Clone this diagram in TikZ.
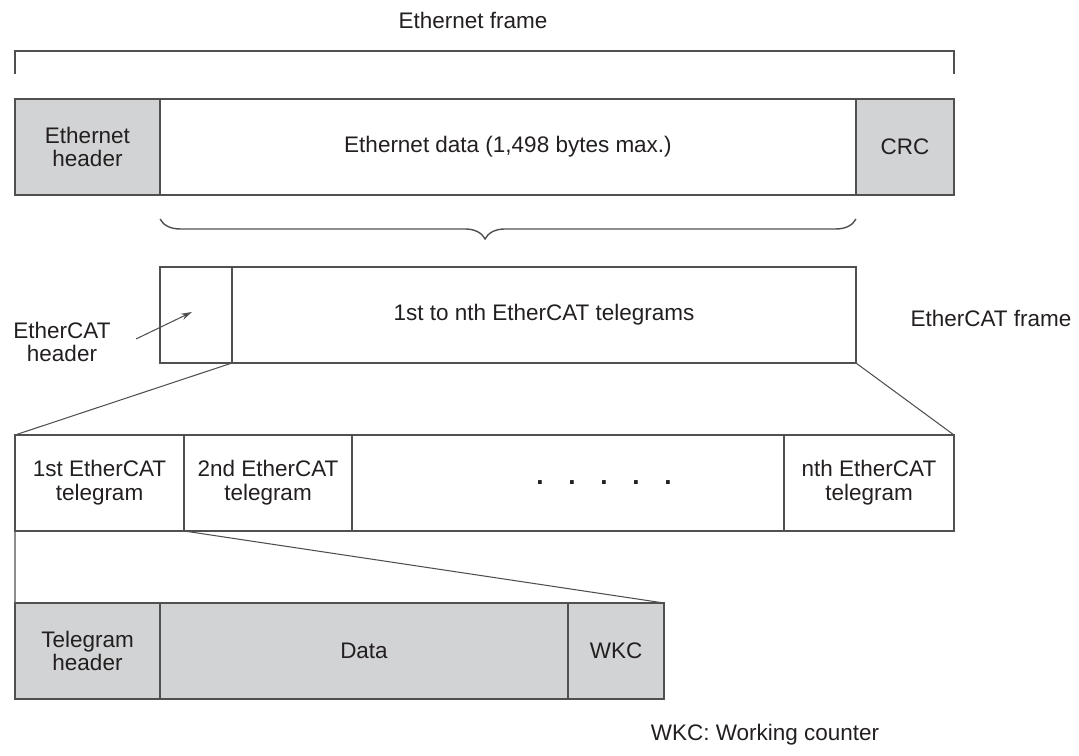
\documentclass[tikz,border=0pt]{standalone}
\usepackage{fontspec}
\setmainfont{Liberation Sans}
\usetikzlibrary{decorations.pathreplacing,arrows.meta}
\definecolor{boxgray}{HTML}{D1D3D4}
\definecolor{edge}{HTML}{505050}
\definecolor{ink}{HTML}{231F20}

\begin{document}
\begin{tikzpicture}[x=0.02cm,y=-0.02cm,
  font=\fontsize{12.8}{13.6}\selectfont,
  cell/.style={draw=edge,line width=0.9pt,minimum height=1.92cm,inner sep=0pt,outer sep=0pt,align=center,text=ink},
  shaded/.style={cell,fill=boxgray},
  thin/.style={draw=edge,line width=0.6pt},
  pointer/.style={thin,-{Stealth[length=0.22cm,width=0.13cm]}},
  curly/.style={draw=edge,line width=0.8pt,decorate,decoration={brace,amplitude=0.4cm,aspect=0.533}}]
\useasboundingbox (0,0) rectangle (1079,756);
% ethernet frame
\node[shaded,minimum width=2.9cm] (ethhdr) at (87.5,147) {Ethernet\\header};
\node[cell,minimum width=13.92cm] (ethdata) at (508,147) {Ethernet data (1,498 bytes max.)};
\node[shaded,minimum width=1.96cm] (crc) at (905,147) {CRC};
\node[text=ink] (ethframe) at (473,20) {Ethernet frame};
\draw[thin,line width=0.8pt] ([yshift=0.5cm]ethhdr.north west) -- ([yshift=0.96cm]ethhdr.north west)
  -| ([yshift=0.5cm]crc.north east);
\draw[curly] ([yshift=-0.48cm]ethdata.south east) -- ([yshift=-0.48cm]ethdata.south west);
% ethercat frame
\node[cell,minimum width=1.44cm] (ecathdr) at (196,315) {};
\node[cell,minimum width=12.48cm] (ecattel) at (544,315) {1st to nth EtherCAT telegrams};
\node[text=ink] (ecatframe) at (991,318) {EtherCAT frame};
\node[text=ink,align=center] (hdrlabel) at (62,342) {EtherCAT\\header};
\coordinate (hdrtail) at (136,339);
\draw[pointer] (hdrtail) -- ([xshift=-0.08cm,yshift=0.06cm]ecathdr.center);
% telegrams
\node[cell,minimum width=3.38cm] (tel1) at (99.5,483) {1st EtherCAT\\telegram};
\node[cell,minimum width=3.36cm] (tel2) at (268,483) {2nd EtherCAT\\telegram};
\node[cell,minimum width=8.64cm] (telmid) at (568,483) {};
\node[cell,minimum width=3.4cm] (teln) at (869,483) {nth EtherCAT\\telegram};
\foreach \i in {0,...,4}
  \node[anchor=base,inner sep=0pt,text=ink,font=\fontsize{15}{16}\bfseries] (dot\i) at (540+32*\i,485) {.};
\draw[thin] (ecattel.south west) -- (tel1.north west);
\draw[thin] (ecattel.south east) -- (teln.north east);
% one telegram
\node[shaded,minimum width=2.9cm] (telhdr) at (87.5,651) {Telegram\\header};
\node[shaded,minimum width=8.16cm] (teldata) at (364,651) {Data};
\node[shaded,minimum width=1.92cm] (wkc) at (616,651) {WKC};
\draw[thin] (tel1.south west) -- (telhdr.north west);
\draw[thin] (tel1.south east) -- (wkc.north east);
\node[text=ink] (wkcnote) at (765,735) {WKC: Working counter};
\end{tikzpicture}
\end{document}
